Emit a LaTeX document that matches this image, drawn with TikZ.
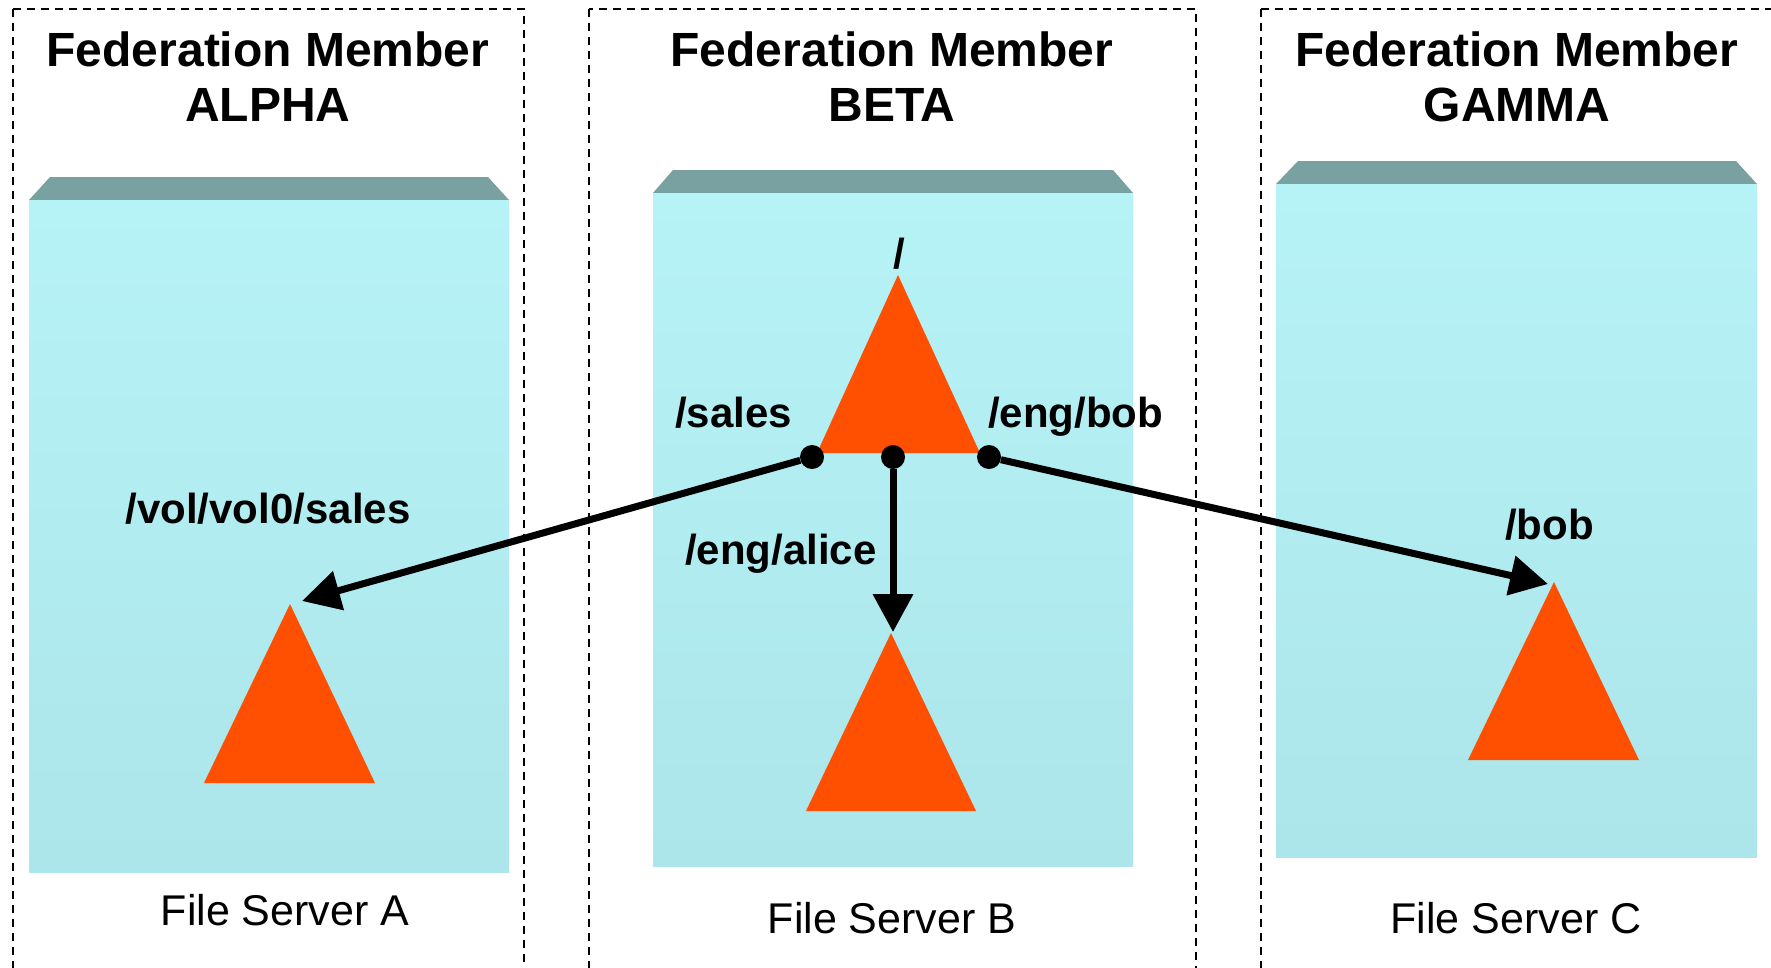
\documentclass[tikz,border=0pt]{standalone}
\usepackage{fontspec}
\setmainfont{Liberation Sans}
\usetikzlibrary{arrows.meta}

\definecolor{lidgrey}{RGB}{121,161,162}
\definecolor{frontlight}{RGB}{182,243,246}
\definecolor{frontdark}{RGB}{172,229,234}
\definecolor{volorange}{RGB}{255,79,0}

\begin{document}
\begin{tikzpicture}[
    x=1pt, y=-1pt,
    member/.style={draw, line width=2pt, dash pattern=on 8pt off 6pt},
    lid/.style={fill=lidgrey},
    front/.style={top color=frontlight, bottom color=frontdark},
    volume/.style={fill=volorange},
    membertitle/.style={font=\fontsize{48}{55}\selectfont\bfseries, align=center, anchor=south, inner sep=0pt},
    servername/.style={font=\fontsize{43}{50}\selectfont, anchor=base, inner sep=0pt},
    pathname/.style={font=\fontsize{42}{50}\selectfont\bfseries, anchor=base, inner sep=0pt},
    junction/.style={circle, fill=black, inner sep=0pt, minimum size=24pt},
    mount/.style={line width=7pt, -{Triangle[length=38pt,width=39pt]}}
  ]
  \useasboundingbox (0,0) rectangle (1771,967);

  % federation members
  \draw[member] (13,9) rectangle (524,1000);
  \draw[member] (589,9) rectangle (1196,1000);
  \draw[member] (1261,9) rectangle (1800,1000);
  \node[membertitle] (alpha) at (268,122) {Federation Member\\ALPHA};
  \node[membertitle] (beta) at (892,122) {Federation Member\\BETA};
  \node[membertitle] (gamma) at (1517,122) {Federation Member\\GAMMA};

  % file servers
  \fill[lid] (50,177) -- (488,177) -- (509,200) -- (29,200) -- cycle;
  \shade[front] (29,200) rectangle (509,872);
  \fill[lid] (673,170) -- (1113,170) -- (1133,193) -- (653,193) -- cycle;
  \shade[front] (653,193) rectangle (1133,866);
  \fill[lid] (1298,161) -- (1736,161) -- (1757,184) -- (1276,184) -- cycle;
  \shade[front] (1276,184) rectangle (1757,857);
  \node[servername] (serverA) at (285,925) {File Server A};
  \node[servername] (serverB) at (892,933) {File Server B};
  \node[servername] (serverC) at (1516,933) {File Server C};

  % volumes
  \fill[volume] (898,275) -- (980,453) -- (817,453) -- cycle;
  \fill[volume] (290,604) -- (375,783) -- (204,783) -- cycle;
  \fill[volume] (891,633) -- (976,811) -- (806,811) -- cycle;
  \fill[volume] (1554,582) -- (1639,760) -- (1468,760) -- cycle;

  % junctions and paths
  \node[pathname] (root) at (899,268) {/};
  \node[pathname, anchor=base west] (salesname) at (675,427) {/sales};
  \node[pathname, anchor=base west] (bobname) at (988,427) {/eng/bob};
  \node[pathname, anchor=base west] (alicename) at (685,564) {/eng/alice};
  \node[pathname] (volname) at (268,523) {/vol/vol0/sales};
  \node[pathname, anchor=base west] (bobdir) at (1505,539) {/bob};

  \node[junction] (sales) at (812,457) {};
  \node[junction] (alice) at (893,457) {};
  \node[junction] (bob) at (989,457) {};
  \coordinate (tipA) at (302,601);
  \coordinate (tipB) at (893,632);
  \coordinate (tipC) at (1548,584);

  \draw[mount] (sales) -- (tipA);
  \draw[mount] (alice) -- (tipB);
  \draw[mount] (bob) -- (tipC);
\end{tikzpicture}
\end{document}
